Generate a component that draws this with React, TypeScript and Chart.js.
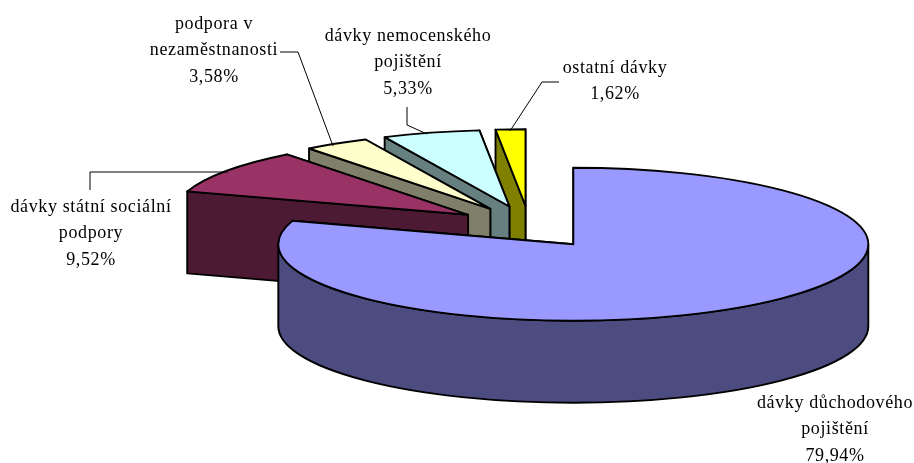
import React, { useEffect, useRef } from "react";
import { Chart, registerables } from "chart.js";

Chart.register(...registerables);

// ---- data ----
const categories = [
  "dávky důchodového pojištění",
  "dávky státní sociální podpory",
  "podpora v nezaměstnanosti",
  "dávky nemocenského pojištění",
  "ostatní dávky",
];
const values = [79.94, 9.52, 3.58, 5.33, 1.62];
const percentLabels = ["79,94%", "9,52%", "3,58%", "5,33%", "1,62%"];
const labelLines = [
  ["dávky důchodového", "pojištění"],
  ["dávky státní sociální", "podpory"],
  ["podpora v", "nezaměstnanosti"],
  ["dávky nemocenského", "pojištění"],
  ["ostatní dávky"],
];
const topColors = ["#9999FF", "#993366", "#FFFFCC", "#CCFFFF", "#FFFF00"];
const wallColors = ["#4C4C80", "#4D1A33", "#80806A", "#668080", "#808000"];

// ---- layout / style ----
const W = 914;
const H = 463;
const CENTER = { x: 529.3, y: 227 };
const RADIUS = 295;
const SQUASH = 76.5 / 295;
const EXPLODE = 74.7;
const EXPLODE_SQUASH = 0.285;
const DEPTH = 82;
const FONT = '18px "Liberation Serif", "Times New Roman", serif';
const LETTER_SPACING = "0.62px";
const LINE_H = 26.5;
const labelAnchors = [
  { x: 835, y: 403 },
  { x: 91, y: 207 },
  { x: 214, y: 24 },
  { x: 408, y: 36 },
  { x: 615, y: 68 },
];
const leaders: number[][][] = [
  [],
  [[90, 190], [90, 172], [228, 172]],
  [[280, 52], [298, 52], [333, 146]],
  [[407, 107], [407, 125], [427, 134]],
  [[559, 82], [542, 82], [510, 131]],
];

const pie3d = {
  id: "pie3d",
  beforeDatasetsDraw(chart: any) {
    const ctx: CanvasRenderingContext2D = chart.ctx;
    const arcs = chart.getDatasetMeta(0).data;
    ctx.save();
    ctx.lineJoin = "round";
    ctx.lineWidth = 1.9;
    ctx.strokeStyle = "#000";

    // back to front: last slice first, the big slice on top
    for (let i = arcs.length - 1; i >= 0; i--) {
      const a = arcs[i];
      const { x, y, startAngle, endAngle, outerRadius } = a.getProps([
        "x", "y", "startAngle", "endAngle", "outerRadius",
      ]);
      const mid = (startAngle + endAngle) / 2;
      const cx = x + Math.cos(mid) * EXPLODE;
      const cy = y + Math.sin(mid) * EXPLODE * EXPLODE_SQUASH;
      const rx = outerRadius;
      const ry = outerRadius * SQUASH;
      const pt = (t: number) => [cx + Math.cos(t) * rx, cy + Math.sin(t) * ry];

      const face = (t: number) => {
        const [px, py] = pt(t);
        ctx.beginPath();
        ctx.moveTo(cx, cy);
        ctx.lineTo(px, py);
        ctx.lineTo(px, py + DEPTH);
        ctx.lineTo(cx, cy + DEPTH);
        ctx.closePath();
        ctx.fillStyle = wallColors[i];
        ctx.fill();
        ctx.stroke();
      };
      face(endAngle);
      face(startAngle);

      const from = Math.max(startAngle, 0);
      const to = Math.min(endAngle, Math.PI);
      if (to > from) {
        ctx.beginPath();
        ctx.ellipse(cx, cy, rx, ry, 0, from, to);
        ctx.ellipse(cx, cy + DEPTH, rx, ry, 0, to, from, true);
        ctx.closePath();
        ctx.fillStyle = wallColors[i];
        ctx.fill();
        ctx.stroke();
      }

      ctx.beginPath();
      ctx.moveTo(cx, cy);
      ctx.ellipse(cx, cy, rx, ry, 0, startAngle, endAngle);
      ctx.closePath();
      ctx.fillStyle = topColors[i];
      ctx.fill();
      ctx.stroke();
    }
    ctx.restore();

    // leader lines
    ctx.save();
    ctx.strokeStyle = "#000";
    ctx.lineWidth = 1;
    leaders.forEach((pts) => {
      if (!pts.length) return;
      ctx.beginPath();
      pts.forEach(([px, py], k) => (k ? ctx.lineTo(px, py) : ctx.moveTo(px, py)));
      ctx.stroke();
    });
    ctx.restore();

    // labels
    ctx.save();
    ctx.font = FONT;
    (ctx as any).letterSpacing = LETTER_SPACING;
    ctx.fillStyle = "#000";
    ctx.textAlign = "center";
    ctx.textBaseline = "middle";
    labelLines.forEach((lines, i) => {
      const all = [...lines, percentLabels[i]];
      all.forEach((t, k) => {
        ctx.fillText(t, labelAnchors[i].x, labelAnchors[i].y + k * LINE_H);
      });
    });
    ctx.restore();
    return false;
  },
};

export default function App() {
  const ref = useRef<HTMLCanvasElement>(null);
  useEffect(() => {
    const chart = new Chart(ref.current!, {
      type: "pie",
      data: {
        labels: categories,
        datasets: [
          {
            data: values,
            backgroundColor: topColors,
            borderWidth: 0,
            radius: RADIUS,
          } as any,
        ],
      },
      options: {
        responsive: false,
        animation: false,
        devicePixelRatio: 1,
        events: [],
        layout: {
          padding: {
            left: Math.max(0, 2 * (CENTER.x - W / 2)),
            right: Math.max(0, 2 * (W / 2 - CENTER.x)),
            top: Math.max(0, 2 * (CENTER.y - H / 2)),
            bottom: Math.max(0, 2 * (H / 2 - CENTER.y)),
          },
        },
        plugins: { legend: { display: false }, tooltip: { enabled: false } },
      },
      plugins: [pie3d],
    } as any);
    return () => chart.destroy();
  }, []);
  return (
    <div style={{ position: "fixed", left: 0, top: 0, width: W, height: H, background: "#fff" }}>
      <canvas ref={ref} width={W} height={H} style={{ display: "block" }} />
    </div>
  );
}
